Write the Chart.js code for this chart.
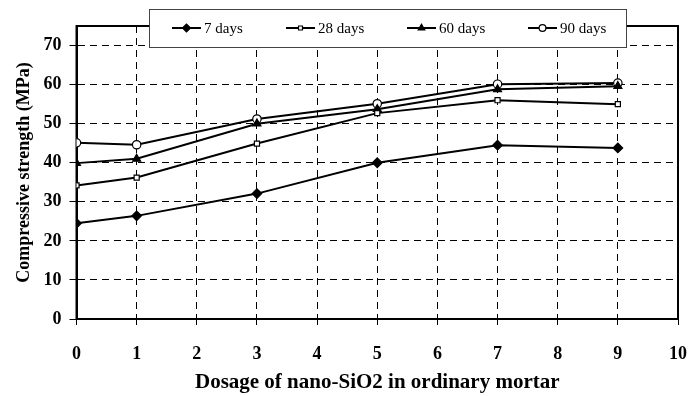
<!DOCTYPE html>
<html>
<head>
<meta charset="utf-8">
<script src="https://cdn.jsdelivr.net/npm/chart.js@4/dist/chart.umd.min.js"></script>
<style>
  html, body { margin: 0; padding: 0; background: #fff; }
  #wrap { width: 689px; height: 396px; }
</style>
</head>
<body>
<div id="wrap"><canvas id="strengthChart" width="689" height="396"></canvas></div>
<script>
// dosage of nano-SiO2 (x) and compressive strength (MPa)
const dosage = [0, 1, 3, 5, 7, 9];
const days7 = [24.5, 26.4, 32.1, 40.0, 44.5, 43.8];
const days28 = [34.2, 36.2, 44.9, 52.7, 56.0, 55.0];
const days60 = [39.9, 41.0, 50.0, 53.7, 58.8, 59.6];
const days90 = [45.1, 44.6, 51.2, 55.1, 60.1, 60.4];
const seriesNames = ['7 days', '28 days', '60 days', '90 days'];
const yTicks = [0, 10, 20, 30, 40, 50, 60, 70];
const xTicks = [0, 1, 2, 3, 4, 5, 6, 7, 8, 9, 10];

const serif = "'Liberation Serif', 'Times New Roman', serif";

function pts(vals) {
    return dosage.map((x, i) => ({ x: x, y: vals[i] }));
}

const styles = [
    { pointStyle: 'rectRot', radius: 4.8, fill: '#000' },
    { pointStyle: 'rect', radius: 3.6, fill: '#fff' },
    { pointStyle: 'triangle', radius: 4.6, fill: '#000' },
    { pointStyle: 'circle', radius: 4.2, fill: '#fff' }
];

const allSeries = [days7, days28, days60, days90];

const datasets = allSeries.map((vals, i) => ({
    label: seriesNames[i],
    data: pts(vals),
    borderColor: '#000',
    borderWidth: 2,
    pointStyle: styles[i].pointStyle,
    pointRadius: styles[i].radius,
    pointBackgroundColor: styles[i].fill,
    pointBorderColor: '#000',
    pointBorderWidth: 1.2,
    tension: 0,
    fill: false
}));

// outer frame of the plot area
const frame = {
    id: 'frame',
    beforeDatasetsDraw(chart) {
        const { ctx, chartArea: a } = chart;
        ctx.save();
        ctx.strokeStyle = '#000';
        ctx.lineWidth = 2;
        ctx.strokeRect(a.left, a.top, a.right - a.left, a.bottom - a.top);
        ctx.restore();
    }
};

// boxed legend sitting over the top edge
const boxLegend = {
    id: 'boxLegend',
    afterDraw(chart) {
        const ctx = chart.ctx;
        const box = { x: 149.5, y: 9.5, w: 477, h: 38 };
        const cy = 28;
        const items = [172, 286, 407, 528];
        ctx.save();
        ctx.fillStyle = '#fff';
        ctx.fillRect(box.x, box.y, box.w, box.h);
        ctx.strokeStyle = '#444';
        ctx.lineWidth = 1;
        ctx.strokeRect(box.x, box.y, box.w, box.h);
        ctx.font = '15px ' + serif;
        ctx.textBaseline = 'middle';
        items.forEach((x0, i) => {
            ctx.strokeStyle = '#000';
            ctx.lineWidth = 2;
            ctx.beginPath();
            ctx.moveTo(x0, cy);
            ctx.lineTo(x0 + 29, cy);
            ctx.stroke();
            ctx.fillStyle = styles[i].fill;
            ctx.lineWidth = 1.2;
            Chart.helpers.drawPoint(ctx, {
                pointStyle: styles[i].pointStyle,
                radius: styles[i].radius - 0.8,
                rotation: 0,
                borderWidth: 1.2
            }, x0 + 14.5, cy);
            ctx.fillStyle = '#000';
            ctx.fillText(seriesNames[i], x0 + 32, cy + 1);
        });
        ctx.restore();
    }
};

new Chart(document.getElementById('strengthChart').getContext('2d'), {
    type: 'line',
    data: { datasets: datasets },
    options: {
        responsive: false,
        animation: false,
        layout: { padding: { top: 26, right: 11, left: 0, bottom: 0 } },
        plugins: {
            legend: { display: false },
            tooltip: { enabled: false }
        },
        scales: {
            x: {
                type: 'linear',
                min: 0,
                max: 10,
                afterFit: s => { s.height = 77; s.paddingLeft = 0; s.paddingRight = 0; },
                afterBuildTicks: s => { s.ticks = xTicks.map(v => ({ value: v })); },
                ticks: {
                    color: '#000',
                    padding: 19,
                    maxRotation: 0,
                    font: { family: serif, size: 18, weight: 'bold' }
                },
                grid: {
                    color: '#000',
                    lineWidth: 1,
                    tickLength: 6,
                    tickColor: '#000'
                },
                border: { color: '#000', width: 2, dash: [7, 5] },
                title: {
                    display: true,
                    text: 'Dosage of nano-SiO2 in ordinary mortar',
                    color: '#000',
                    font: { family: serif, size: 21, weight: 'bold' },
                    padding: { top: 0, bottom: 1 }
                }
            },
            y: {
                min: 0,
                max: 75,
                afterFit: s => { s.width = 76.5; s.paddingTop = 0; s.paddingBottom = 0; },
                afterBuildTicks: s => { s.ticks = yTicks.map(v => ({ value: v })); },
                ticks: {
                    color: '#000',
                    padding: 8,
                    font: { family: serif, size: 18, weight: 'bold' }
                },
                grid: {
                    color: '#000',
                    lineWidth: 1,
                    tickLength: 7,
                    tickColor: '#000'
                },
                border: { color: '#000', width: 2, dash: [7, 5] },
                title: {
                    display: true,
                    text: 'Compressive strength (MPa)',
                    color: '#000',
                    font: { family: serif, size: 18, weight: 'bold' },
                    padding: { top: 14, bottom: 0 }
                }
            }
        }
    },
    plugins: [frame, boxLegend]
});
</script>
</body>
</html>
